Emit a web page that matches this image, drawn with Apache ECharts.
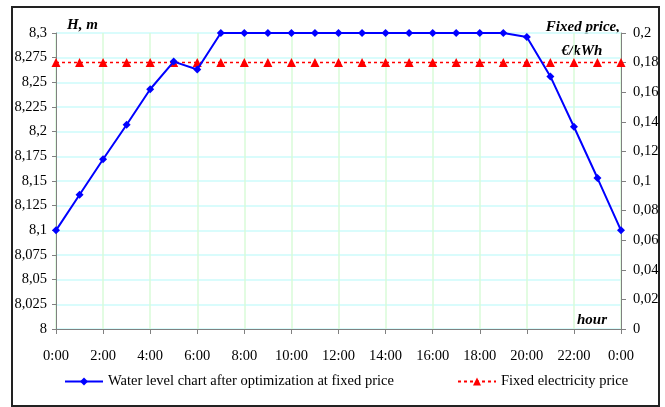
<!DOCTYPE html>
<html><head><meta charset="utf-8">
<script src="https://cdn.jsdelivr.net/npm/echarts@6/dist/echarts.min.js"></script>
<style>html,body{margin:0;padding:0;background:#fff}#c{width:665px;height:407px}</style>
</head><body><div id="c"></div>
<script>
var hours = ['0:00','1:00','2:00','3:00','4:00','5:00','6:00','7:00','8:00','9:00','10:00','11:00','12:00','13:00','14:00','15:00','16:00','17:00','18:00','19:00','20:00','21:00','22:00','23:00','0:00'];
var waterLevel = [8.1,8.136,8.172,8.207,8.243,8.271,8.263,8.3,8.3,8.3,8.3,8.3,8.3,8.3,8.3,8.3,8.3,8.3,8.3,8.3,8.296,8.256,8.205,8.153,8.1];
var fixedPrice = [0.18,0.18,0.18,0.18,0.18,0.18,0.18,0.18,0.18,0.18,0.18,0.18,0.18,0.18,0.18,0.18,0.18,0.18,0.18,0.18,0.18,0.18,0.18,0.18,0.18];
var seriesNames = ['Water level chart after optimization at fixed price','Fixed electricity price'];

var FONT = '"Liberation Serif", "Times New Roman", serif';
function comma(v){ return String(+v.toFixed(4)).replace('.', ','); }
var chart = echarts.init(document.getElementById('c'));
chart.setOption({
  animation: false,
  textStyle: {fontFamily: FONT},
  grid: {left: 56, right: 44, top: 33, bottom: 78, containLabel: false},
  xAxis: {
    type: 'category', data: hours, boundaryGap: false,
    axisLine: {lineStyle: {color: '#808080', width: 1}},
    axisTick: {show: true, interval: 1, length: 5, lineStyle: {color: '#808080'}},
    axisLabel: {interval: 1, margin: 20, color: '#000', fontSize: 14.5, fontFamily: FONT},
    splitLine: {show: true, interval: 1, lineStyle: {color: '#d8fbd8', width: 1.5}}
  },
  yAxis: [{
    type: 'value', min: 8, max: 8.3, interval: 0.025, position: 'left',
    axisLine: {show: true, lineStyle: {color: '#808080'}},
    axisTick: {show: true, length: 4, lineStyle: {color: '#808080'}},
    axisLabel: {formatter: comma, color: '#000', fontSize: 14.5, margin: 9, fontFamily: FONT},
    splitLine: {show: true, lineStyle: {color: '#ccfbfb', width: 1.5}}
  },{
    type: 'value', min: 0, max: 0.2, interval: 0.02, position: 'right',
    axisLine: {show: true, lineStyle: {color: '#808080'}},
    axisTick: {show: true, length: 5, lineStyle: {color: '#808080'}},
    axisLabel: {formatter: comma, color: '#000', fontSize: 14.5, margin: 12, fontFamily: FONT},
    splitLine: {show: false}
  }],
  legend: [{
    data: [seriesNames[0]], left: 64, top: 374, padding: 0, itemWidth: 38, itemHeight: 10,
    textStyle: {fontSize: 14.5, color: '#000', fontFamily: FONT}
  },{
    data: [seriesNames[1]], left: 457, top: 374, padding: 0, itemWidth: 38, itemHeight: 10,
    textStyle: {fontSize: 14.5, color: '#000', fontFamily: FONT}
  }],
  series: [{
    name: seriesNames[1], type: 'line', yAxisIndex: 1, data: fixedPrice,
    symbol: 'triangle', symbolSize: 9,
    itemStyle: {color: '#ff0000'},
    lineStyle: {color: '#ff0000', width: 1.5, type: [3, 3]},
    z: 2
  },{
    name: seriesNames[0], type: 'line', yAxisIndex: 0, data: waterLevel,
    symbol: 'diamond', symbolSize: 8,
    itemStyle: {color: '#0000ff'},
    lineStyle: {color: '#0000ff', width: 2},
    z: 3
  }],
  graphic: [
    {type: 'rect', shape: {x: 12, y: 7, width: 647, height: 399}, style: {fill: 'none', stroke: '#222', lineWidth: 2}, silent: true},
    {type: 'text', x: 67, y: 25, style: {text: 'H, m', font: 'italic bold 15px ' + FONT, fill: '#000', verticalAlign: 'middle'}},
    {type: 'text', x: 620, y: 27, style: {text: 'Fixed price,', font: 'italic bold 15px ' + FONT, fill: '#000', align: 'right', verticalAlign: 'middle'}},
    {type: 'text', x: 582, y: 51, style: {text: '€/kWh', font: 'italic bold 15px ' + FONT, fill: '#000', align: 'center', verticalAlign: 'middle'}},
    {type: 'text', x: 577, y: 320, style: {text: 'hour', font: 'italic bold 15px ' + FONT, fill: '#000', verticalAlign: 'middle'}}
  ]
});
</script></body></html>
